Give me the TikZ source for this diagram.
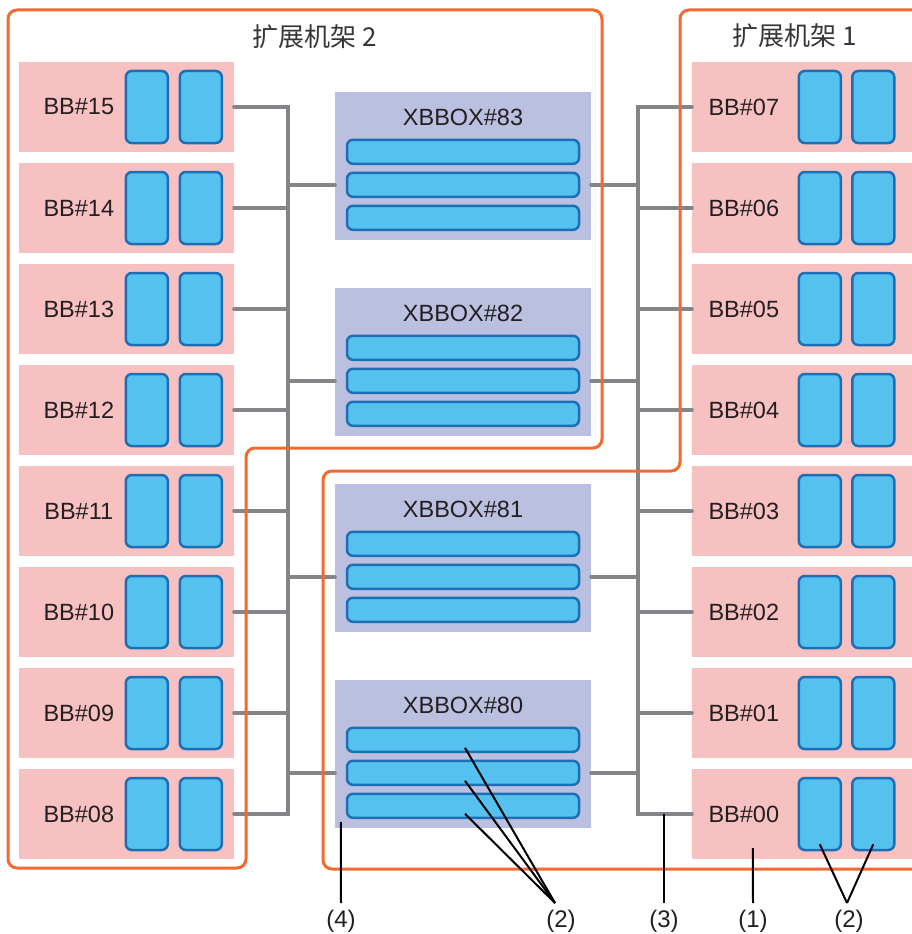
\documentclass[tikz,border=0pt]{standalone}
\usepackage{fontspec}
\setmainfont{Liberation Sans}
\newfontfamily\cjk{Noto Sans CJK SC}
\usetikzlibrary{calc}

\definecolor{bbpink}{RGB}{247,192,193}
\definecolor{cardblue}{RGB}{85,193,239}
\definecolor{cardedge}{RGB}{29,111,181}
\definecolor{xbpurple}{RGB}{187,191,224}
\definecolor{linkgray}{RGB}{132,133,137}
\definecolor{rackorange}{RGB}{242,106,48}
\definecolor{ink}{RGB}{35,31,32}

\def\rowsep{101}
\def\boxsep{196}

\begin{document}
\begin{tikzpicture}[x=1pt, y=-1pt]
    \tikzstyle{bb}=[rectangle, fill=bbpink, minimum height=90pt, inner sep=0pt]
    \tikzstyle{left bb}=[bb, minimum width=215pt]
    \tikzstyle{right bb}=[bb, minimum width=222pt]
    \tikzstyle{card}=[rectangle, rounded corners=6pt, fill=cardblue, draw=cardedge, line width=2.5pt, minimum width=42pt, minimum height=72pt, inner sep=0pt]
    \tikzstyle{bar}=[card, minimum width=232pt, minimum height=24pt]
    \tikzstyle{xbbox}=[rectangle, fill=xbpurple, minimum width=256pt, minimum height=148pt, inner sep=0pt]
    \tikzstyle{bbtext}=[font=\fontsize{23.5}{28}\selectfont, text=ink, inner sep=0pt]
    \tikzstyle{racktitle}=[font=\cjk\fontsize{26}{30}\selectfont, text=ink!90, inner sep=0pt]
    \tikzstyle{link}=[draw=linkgray, line width=4pt, line cap=round]
    \tikzstyle{rack}=[draw=rackorange, line width=3pt, rounded corners=9pt]
    \tikzstyle{callout}=[font=\fontsize{24}{28}\selectfont, text=ink, inner sep=0pt, outer ysep=7pt, anchor=north]
    \tikzstyle{pointer}=[draw=black, line width=2pt]

    \useasboundingbox (0,0) rectangle (912,934);

    \coordinate (lbus) at (288,0);
    \coordinate (rbus) at (638,0);

    \foreach \n/\r in {15/0,14/1,13/2,12/3,11/4,10/5,09/6,08/7} {
        \node[left bb] (L-\n) at (126.5,{107+\rowsep*\r}) {};
        \node[bbtext] (L-\n-t) at ([xshift=60pt]L-\n.west) {BB\#\n};
        \node[card] (L-\n-a) at ([xshift=128pt]L-\n.west) {};
        \node[card] (L-\n-b) at ([xshift=182pt]L-\n.west) {};
    }

    \foreach \n/\r in {07/0,06/1,05/2,04/3,03/4,02/5,01/6,00/7} {
        \node[right bb] (R-\n) at (803,{107+\rowsep*\r}) {};
        \node[bbtext] (R-\n-t) at ([xshift=52pt]R-\n.west) {BB\#\n};
        \node[card] (R-\n-a) at ([xshift=128pt]R-\n.west) {};
        \node[card] (R-\n-b) at ([xshift=181.5pt]R-\n.west) {};
    }

    \foreach \n/\r in {83/0,82/1,81/2,80/3} {
        \node[xbbox] (XB-\n) at (463,{166+\boxsep*\r}) {};
        \node[bbtext] (XB-\n-t) at ([yshift=-26pt]XB-\n.north) {XBBOX\#\n};
        \foreach \k/\dy in {1/60,2/93,3/126}
            \node[bar] (XB-\n-\k) at ([yshift=-\dy pt]XB-\n.north) {};
    }

    \draw[link] (L-15.east) -| (lbus |- L-08.east) -- (L-08.east);
    \foreach \n in {14,13,12,11,10,09}
        \draw[link] (L-\n.east) -- (lbus |- L-\n.east);

    \draw[link] (R-07.west) -| (rbus |- R-00.west) -- (R-00.west);
    \foreach \n in {06,05,04,03,02,01}
        \draw[link] (R-\n.west) -- (rbus |- R-\n.west);

    \foreach \n in {83,82,81,80} {
        \draw[link] (XB-\n.west |- XB-\n-2) -- (lbus |- XB-\n-2);
        \draw[link] (XB-\n.east |- XB-\n-2) -- (rbus |- XB-\n-2);
    }

    \draw[rack] (8,10) -- (602,10) -- (602,448) -- (246,448) -- (246,868) -- (8,868) -- cycle;
    \draw[rack] (680,10) -- (930,10) -- (930,869) -- (323,869) -- (323,471) -- (680,471) -- cycle;

    \node[racktitle] (rack-2) at (315,37) {扩展机架 2};
    \node[racktitle] (rack-1) at (795,36) {扩展机架 1};

    \node[callout] (c4) at (341,903) {(4)};
    \node[callout] (c2a) at (561,903) {(2)};
    \node[callout] (c3) at (664,903) {(3)};
    \node[callout] (c1) at (753,903) {(1)};
    \node[callout] (c2b) at (849,903) {(2)};

    \draw[pointer] ([shift={(6,-6)}]XB-80.south west) -- (c4.north);
    \foreach \k in {1,2,3}
        \draw[pointer] ([shift={(2,8)}]XB-80-\k.center) -- ([xshift=-6pt]c2a.north);
    \draw[pointer] (c3.north) -- (c3.north |- R-00.west);
    \draw[pointer] ([shift={(61,-11)}]R-00.south west) -- (c1.north);
    \foreach \k in {a,b}
        \draw[pointer] ([yshift=7pt]R-00-\k.south) -- ([xshift=-2pt]c2b.north);
\end{tikzpicture}
\end{document}
